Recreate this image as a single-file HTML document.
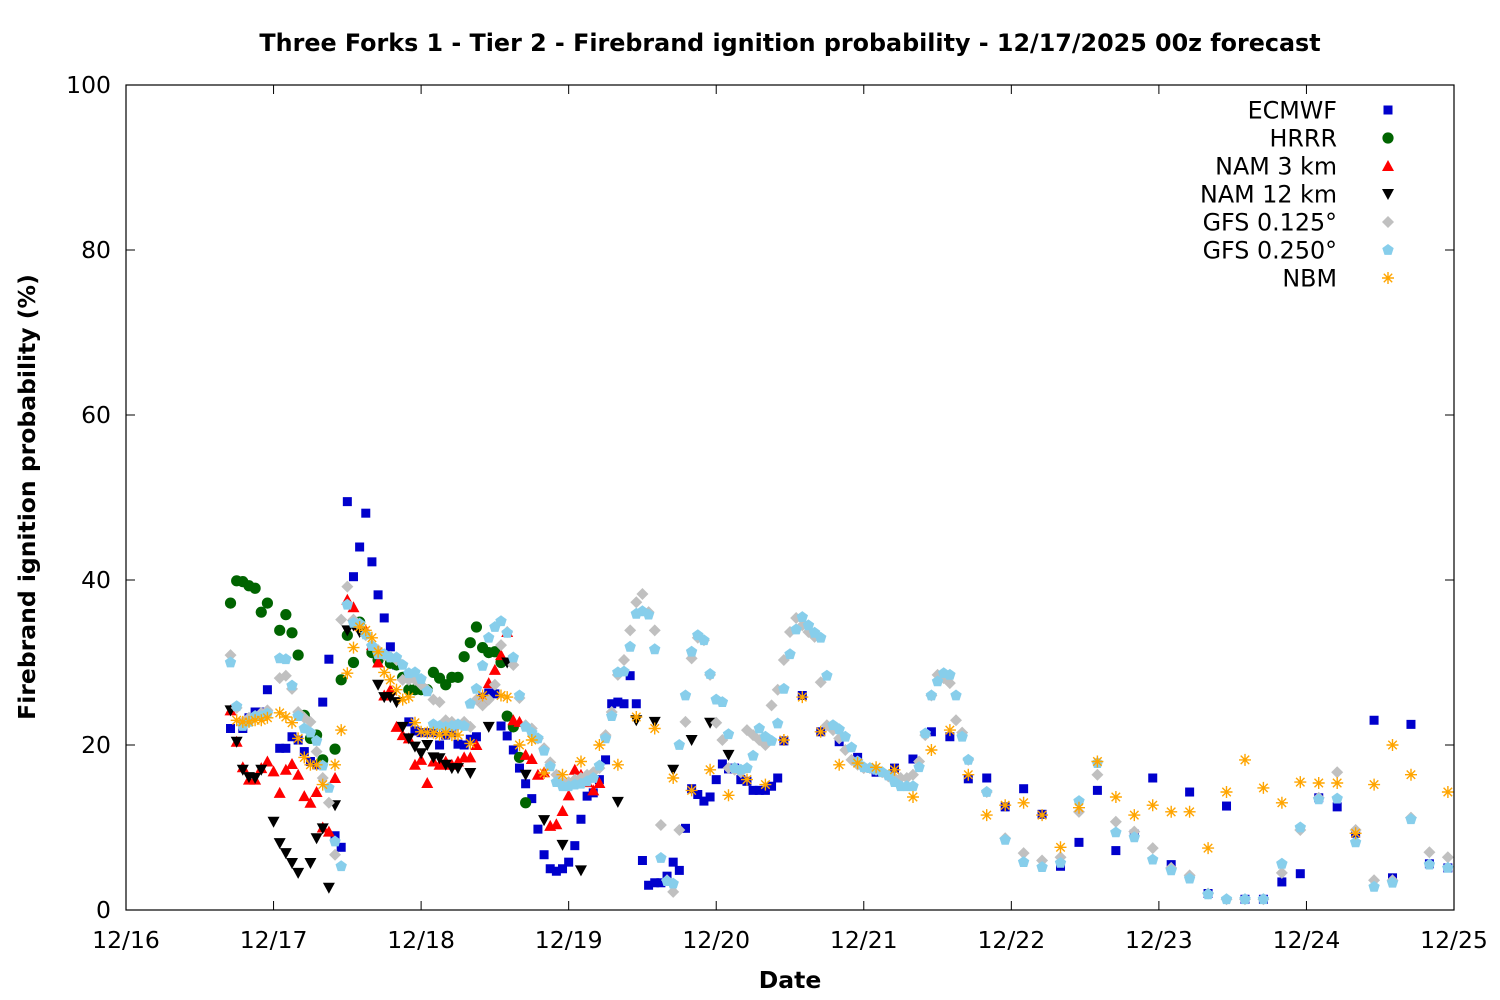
<!DOCTYPE html>
<html><head><meta charset="utf-8"><style>
html,body{margin:0;padding:0;background:#fff;}
svg{display:block;font-family:"DejaVu Sans","Liberation Sans",sans-serif;}
</style></head><body>
<svg id="chart" width="1500" height="1000" viewBox="0 0 1500 1000" xmlns="http://www.w3.org/2000/svg">
<rect width="1500" height="1000" fill="#fff"/>
<text x="790" y="51" text-anchor="middle" font-size="23.8" font-weight="bold">Three Forks 1 - Tier 2 - Firebrand ignition probability - 12/17/2025 00z forecast</text>
<text x="790" y="988" text-anchor="middle" font-size="23.5" font-weight="bold">Date</text>
<text transform="translate(35,497) rotate(-90)" text-anchor="middle" font-size="23.5" font-weight="bold">Firebrand ignition probability (%)</text>
<g id="axes"></g>
<g id="marks"></g>
<g id="legend"></g>
<rect x="126" y="85" width="1328" height="825" fill="none" stroke="#000" stroke-width="1.2"/>
</svg>
<script>
const xTickLabels = ["12/16","12/17","12/18","12/19","12/20","12/21","12/22","12/23","12/24","12/25"];
const yTickValues = [0,20,40,60,80,100];
const seriesNames = ["ECMWF","HRRR","NAM 3 km","NAM 12 km","GFS 0.125°","GFS 0.250°","NBM"];

const ecmwf = [[17,22],[19,22],[20,23.3],[21,24],[22,24],[23,26.7],[25,19.6],[26,19.6],[27,21],[28,20.6],[29,19.2],[30,18],[31,17.6],[32,25.2],[33,30.4],[34,9],[35,7.6],[36,49.5],[37,40.4],[38,44],[39,48.1],[40,42.2],[41,38.2],[42,35.4],[43,31.9],[44,29.7],[46,22.8],[47,21.7],[48,21.5],[49,21.5],[50,21.5],[51,20],[52,21.2],[53,21.5],[54,20.1],[55,20],[56,20.7],[57,21],[58,25.8],[59,26.3],[60,26.2],[61,22.3],[62,21.1],[63,19.4],[64,17.2],[65,15.3],[66,13.5],[67,9.8],[68,6.7],[69,5],[70,4.7],[71,5],[72,5.8],[73,7.8],[74,11],[75,13.8],[76,14.2],[77,15.8],[78,18.2],[79,25],[80,25.2],[81,25],[82,28.4],[83,25],[84,6],[85,3],[86,3.3],[87,3.3],[88,4.1],[89,5.8],[90,4.8],[91,9.9],[92,14.7],[93,14],[94,13.2],[95,13.7],[96,15.8],[97,17.7],[98,17.1],[99,17.2],[100,15.8],[101,15.6],[102,14.5],[103,14.5],[104,14.5],[105,15],[106,16],[107,20.5],[110,26],[113,21.6],[116,20.4],[119,18.5],[122,16.7],[125,17.2],[128,18.3],[131,21.6],[134,21],[137,15.9],[140,16],[143,12.5],[146,14.7],[149,11.6],[152,5.3],[155,8.2],[158,14.5],[161,7.2],[164,9.2],[167,16],[170,5.5],[173,14.3],[176,2],[179,12.6],[182,1.3],[185,1.3],[188,3.4],[191,4.4],[194,13.6],[197,12.5],[200,9.3],[203,23],[206,3.9],[209,22.5],[212,5.6],[215,5.1]];

const hrrr = [[17,37.2],[18,39.9],[19,39.8],[20,39.3],[21,39],[22,36.1],[23,37.2],[25,33.9],[26,35.8],[27,33.6],[28,30.9],[29,23.6],[30,20.8],[31,21.2],[32,18.2],[34,19.5],[35,27.9],[36,33.3],[37,30],[38,34.9],[40,31.2],[41,30.3],[43,29.9],[44,29.7],[45,28.2],[46,26.7],[47,26.7],[48,26.7],[49,26.7],[50,28.8],[51,28.1],[52,27.3],[53,28.2],[54,28.2],[55,30.7],[56,32.4],[57,34.3],[58,31.8],[59,31.2],[60,31.3],[61,30],[62,23.5],[63,22.2],[64,18.5],[65,13]];

const nam3 = [[17,24.2],[18,20.4],[19,17.3],[20,15.8],[21,15.8],[22,17.2],[23,18],[24,16.8],[25,14.2],[26,17],[27,17.7],[28,16.4],[29,13.8],[30,13],[31,14.3],[32,10],[33,9.5],[34,16],[36,37.6],[37,36.7],[38,34.5],[39,33.9],[40,32.1],[41,30],[42,26],[43,26.7],[44,22.2],[45,21.2],[46,20.8],[47,17.6],[48,18.2],[49,15.4],[50,18],[51,17.6],[52,18],[53,17.6],[54,18],[55,18.5],[56,18.5],[57,20],[58,25.5],[59,27.5],[60,29.1],[61,30.9],[62,33.7],[63,23],[64,22.8],[65,18.8],[66,18.3],[67,16.4],[68,16.7],[69,10.2],[70,10.4],[71,12],[72,13.9],[73,17],[74,16.4],[75,15.5],[76,14.5],[77,15.4]];

const nam12 = [[17,24.2],[18,20.4],[19,17],[20,16.1],[21,16],[22,17],[24,10.7],[25,8.1],[26,6.9],[27,5.7],[28,4.5],[30,5.7],[31,8.7],[32,9.9],[33,2.7],[34,12.7],[36,33.9],[37,34.5],[38,33.7],[41,27.3],[42,25.8],[43,25.8],[44,25.2],[45,22.2],[46,20.8],[47,19.8],[48,19],[49,20],[50,18.5],[51,18.4],[52,17.6],[53,17.2],[54,17.2],[56,16.6],[59,22.2],[62,30],[65,16.4],[68,10.9],[71,7.9],[74,4.8],[80,13.1],[83,23],[86,22.8],[89,17],[92,20.6],[95,22.7],[98,18.8]];

const gfs125 = [[17,30.9],[18,24.5],[19,22.8],[20,23.3],[21,23.5],[22,23.9],[23,24.2],[25,28.1],[26,28.4],[27,26.8],[28,24],[29,23.3],[30,22.8],[31,19.2],[32,16],[33,13],[34,6.7],[35,35.2],[36,39.2],[37,35.2],[39,33.3],[40,32.1],[41,31.5],[42,30.9],[43,30.7],[44,30.3],[45,27.9],[46,27.9],[47,27.9],[48,27.3],[49,26.7],[50,25.5],[51,25.2],[52,23],[53,22.8],[54,22.4],[55,22.8],[56,22.2],[57,25.5],[58,24.8],[59,25.5],[60,27.3],[61,32.1],[62,33.7],[63,29.7],[64,25.7],[65,22.4],[66,22],[67,20.8],[68,19.6],[69,17.9],[70,16.4],[71,15.5],[72,15.5],[73,15.8],[74,16],[75,16.4],[76,16.7],[77,17.2],[78,21.2],[79,24],[80,28.5],[81,30.3],[82,33.9],[83,37.3],[84,38.3],[85,36.1],[86,33.9],[87,10.3],[88,3.6],[89,2.2],[90,9.7],[91,22.8],[92,30.5],[93,33],[94,32.7],[95,28.5],[96,22.7],[97,20.6],[98,17.2],[99,17],[100,16.7],[101,21.8],[102,21.2],[103,20.6],[104,20],[105,24.8],[106,26.7],[107,30.3],[108,33.7],[109,35.4],[110,34.5],[111,33.7],[112,33.1],[113,27.6],[114,22.4],[115,21.8],[116,20.8],[117,19.4],[118,18.2],[119,17.6],[120,17.2],[121,17.2],[122,17],[123,16.7],[124,16.2],[125,16],[126,16],[127,16],[128,16.4],[129,18],[130,21.2],[131,26],[132,28.5],[133,28.1],[134,27.5],[135,23],[136,21.5],[137,18.2],[140,14.3],[143,8.7],[146,6.9],[149,6],[152,6.4],[155,11.9],[158,16.4],[161,10.7],[164,9.5],[167,7.5],[170,5.1],[173,4.2],[176,2],[179,1.3],[182,1.3],[185,1.3],[188,4.5],[191,9.7],[194,13.6],[197,16.7],[200,9.7],[203,3.6],[206,3.6],[209,11.2],[212,7],[215,6.4]];

const gfs250 = [[17,30],[18,24.7],[19,22.3],[20,22.8],[21,23.5],[22,23.5],[23,23.8],[25,30.5],[26,30.4],[27,27.2],[28,23.5],[29,22],[30,21.5],[31,20.5],[32,17.5],[33,14.8],[34,8.3],[35,5.3],[36,37],[37,34.8],[38,34.7],[39,33.4],[40,32],[41,31],[42,31],[43,30.6],[44,30.6],[45,29.7],[46,28.7],[47,28.8],[48,28],[49,26.5],[50,22.5],[51,22.3],[52,22.2],[53,22.3],[54,22.5],[55,22.3],[56,25],[57,26.8],[58,29.6],[59,33],[60,34.3],[61,35],[62,33.6],[63,30.6],[64,26],[65,22.2],[66,21.5],[67,20.8],[68,19.3],[69,17.4],[70,15.5],[71,15],[72,15],[73,15.2],[74,15.3],[75,15.6],[76,16],[77,17.5],[78,20.8],[79,23.5],[80,28.8],[81,28.9],[82,31.9],[83,35.9],[84,36.2],[85,35.8],[86,31.6],[87,6.3],[88,3.5],[89,3.2],[90,20],[91,26],[92,31.3],[93,33.3],[94,32.7],[95,28.6],[96,25.5],[97,25.2],[98,21.3],[99,17.2],[100,17],[101,17.2],[102,18.7],[103,22],[104,21],[105,20.5],[106,22.6],[107,26.8],[108,31],[109,34],[110,35.5],[111,34.5],[112,33.6],[113,33],[114,28.4],[115,22.4],[116,21.9],[117,21],[118,19.7],[119,18],[120,17.3],[121,17.2],[122,17],[123,16.7],[124,16.3],[125,15.5],[126,15],[127,15],[128,15],[129,17.3],[130,21.4],[131,26],[132,27.7],[133,28.7],[134,28.5],[135,26],[136,21],[137,18.2],[140,14.3],[143,8.5],[146,5.8],[149,5.2],[152,5.7],[155,13.2],[158,17.8],[161,9.4],[164,8.8],[167,6.1],[170,4.8],[173,3.8],[176,1.9],[179,1.3],[182,1.3],[185,1.3],[188,5.6],[191,10],[194,13.4],[197,13.5],[200,8.2],[203,2.8],[206,3.3],[209,11],[212,5.5],[215,5.1]];

const nbm = [[18,23],[19,22.8],[20,22.8],[21,23],[22,23],[23,23.3],[25,23.9],[26,23.4],[27,22.7],[28,20.8],[29,18.5],[30,17.6],[31,17.6],[32,15.2],[34,17.6],[35,21.8],[36,28.7],[37,31.8],[38,34.3],[39,33.9],[40,33],[41,31.3],[42,28.8],[43,27.9],[44,26.7],[45,25.5],[46,25.8],[47,22.7],[48,21.6],[49,21.5],[50,21.5],[51,21.2],[52,21.5],[53,21.2],[54,21.2],[56,20.2],[58,26],[61,26],[62,25.8],[64,20],[66,20.6],[68,16.6],[71,16.4],[74,18],[77,20],[80,17.6],[83,23.4],[86,22],[89,16],[92,14.5],[95,17],[98,13.9],[101,15.8],[104,15.2],[107,20.6],[110,25.8],[113,21.6],[116,17.6],[119,17.8],[122,17.3],[125,17],[128,13.7],[131,19.4],[134,21.8],[137,16.4],[140,11.5],[143,12.7],[146,13],[149,11.5],[152,7.6],[155,12.4],[158,18],[161,13.7],[164,11.5],[167,12.7],[170,11.9],[173,11.9],[176,7.5],[179,14.3],[182,18.2],[185,14.8],[188,13],[191,15.5],[194,15.4],[197,15.4],[200,9.3],[203,15.2],[206,20],[209,16.4],[215,14.3]];

const NS = "http://www.w3.org/2000/svg";
const X0 = 126, X1 = 1454, Y0 = 910, Y1 = 85;
const xScale = h => X0 + (h / 216) * (X1 - X0);
const yScale = v => Y0 - (v / 100) * (Y0 - Y1);

function mk(tag, attrs, parent) {
  const el = document.createElementNS(NS, tag);
  for (const k in attrs) el.setAttribute(k, attrs[k]);
  parent.appendChild(el);
  return el;
}

const axes = document.getElementById('axes');
xTickLabels.forEach((lab, i) => {
  const x = xScale(i * 24);
  const t1 = mk('line', {x1:x, y1:Y0, x2:x, y2:Y0-9, stroke:'#000', 'stroke-width':1}, axes);
  
  
  const t2 = mk('line', {x1:x, y1:Y1, x2:x, y2:Y1+9, stroke:'#000', 'stroke-width':1}, axes);
  
  
  const tx = mk('text', {x:x, y:Y0+38, 'text-anchor':'middle', 'font-size':23.5}, axes);
  tx.textContent = lab;
  
  
});
yTickValues.forEach(v => {
  const y = yScale(v);
  const t1 = mk('line', {x1:X0, y1:y, x2:X0+9, y2:y, stroke:'#000', 'stroke-width':1}, axes);
  
  
  const t2 = mk('line', {x1:X1, y1:y, x2:X1-9, y2:y, stroke:'#000', 'stroke-width':1}, axes);
  
  
  const tx = mk('text', {x:X0-15, y:y+8, 'text-anchor':'end', 'font-size':23.5}, axes);
  tx.textContent = v;
  
  
});

function marker(kind, cx, cy, parent) {
  let el;
  if (kind === 'square') el = mk('rect', {x:cx-4.5, y:cy-4.5, width:9, height:9, fill:'#0000cc'}, parent);
  else if (kind === 'circle') el = mk('circle', {cx:cx, cy:cy, r:5.6, fill:'#006400'}, parent);
  else if (kind === 'up') el = mk('polygon', {points:`${cx},${cy-6} ${cx-6},${cy+5} ${cx+6},${cy+5}`, fill:'#ff0000'}, parent);
  else if (kind === 'down') el = mk('polygon', {points:`${cx},${cy+6} ${cx-6},${cy-5} ${cx+6},${cy-5}`, fill:'#000000'}, parent);
  else if (kind === 'diamond') el = mk('polygon', {points:`${cx},${cy-6} ${cx+6},${cy} ${cx},${cy+6} ${cx-6},${cy}`, fill:'#c0c0c0'}, parent);
  else if (kind === 'pent') {
    const p = [];
    for (let i = 0; i < 5; i++) { const a = -Math.PI/2 + i*2*Math.PI/5; p.push((cx+6*Math.cos(a)).toFixed(1)+','+(cy+6*Math.sin(a)).toFixed(1)); }
    el = mk('polygon', {points:p.join(' '), fill:'#87ceeb'}, parent);
  } else {
    const d = [];
    for (let i = 0; i < 4; i++) { const a = i*Math.PI/4; d.push(`M${(cx-6*Math.cos(a)).toFixed(1)},${(cy-6*Math.sin(a)).toFixed(1)}L${(cx+6*Math.cos(a)).toFixed(1)},${(cy+6*Math.sin(a)).toFixed(1)}`); }
    el = mk('path', {d:d.join(''), stroke:'#ffa500', 'stroke-width':1.4, fill:'none'}, parent);
  }
  return el;
}

const series = [
  {data: ecmwf, kind:'square', key:'ecmwf'},
  {data: hrrr, kind:'circle', key:'hrrr'},
  {data: nam3, kind:'up', key:'nam-3km'},
  {data: nam12, kind:'down', key:'nam-12km'},
  {data: gfs125, kind:'diamond', key:'gfs-0125'},
  {data: gfs250, kind:'pent', key:'gfs-0250'},
  {data: nbm, kind:'star', key:'nbm'}
];
const marks = document.getElementById('marks');
const legend = document.getElementById('legend');
series.forEach((s, si) => {
  const g = mk('g', {}, marks);
  
  
  s.data.forEach(([h, v]) => {
    const m = marker(s.kind, xScale(h), yScale(v), g);
    
    
  });
  const ly = 110 + si * 28;
  const lt = mk('text', {x:1337, y:ly+8.5, 'text-anchor':'end', 'font-size':23.8}, legend);
  lt.textContent = seriesNames[si];
  
  
  const lm = marker(s.kind, 1388, ly, legend);
  
  
});
</script>
</body></html>
